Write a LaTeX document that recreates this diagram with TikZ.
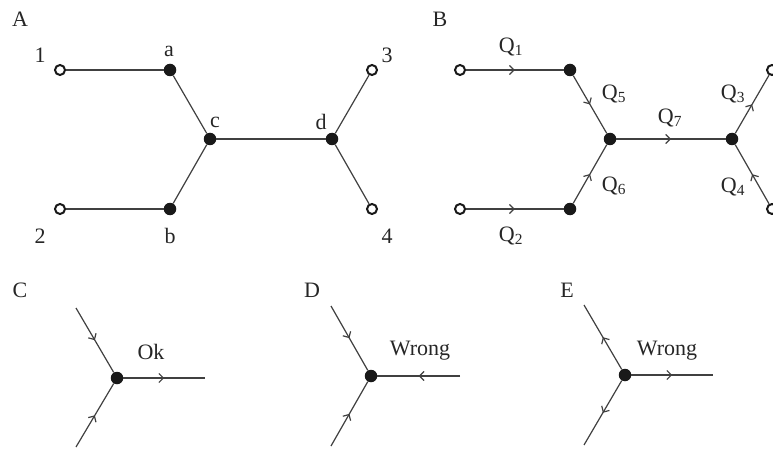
\documentclass[tikz,border=0pt]{standalone}
\usepackage{fontspec}
\setmainfont{Liberation Serif}
\usetikzlibrary{arrows.meta,decorations.markings}
\begin{document}
\begin{tikzpicture}[x=1pt,y=-1pt,
  opennode/.style={circle, draw=black!90, line width=2pt, fill=white, inner sep=0pt, minimum size=10pt},
  dotnode/.style={circle, fill=black!90, inner sep=0pt, minimum size=12.5pt},
  jnode/.style={circle, fill=black!90, inner sep=0pt, minimum size=12.5pt},
  edge/.style={line width=1.2pt, draw=black!75},
  flow/.style={edge, postaction={decorate}, decoration={markings, mark=at position 0.5 with {\arrow{Straight Barb[length=4.5pt,width=9pt,line width=1.2pt]}}}},
  lbl/.style={font=\fontsize{22}{26}\selectfont, inner sep=0pt, text=black!85}
]
\useasboundingbox (0,0) rectangle (773,449);

% ---------- Panel A ----------
\node[lbl] (tA) at (20,19) {A};
\node[opennode] (p1) at (60,70) {};
\node[dotnode] (pa) at (170,70) {};
\node[dotnode] (pc) at (210,139) {};
\node[dotnode] (pb) at (170,209) {};
\node[opennode] (p2) at (60,209) {};
\node[dotnode] (pd) at (332,139) {};
\node[opennode] (p3) at (372,70) {};
\node[opennode] (p4) at (372,209) {};
\draw[edge] (p1) -- (pa);
\draw[edge] (pa) -- (pc);
\draw[edge] (pb) -- (pc);
\draw[edge] (p2) -- (pb);
\draw[edge] (pc) -- (pd);
\draw[edge] (pd) -- (p3);
\draw[edge] (pd) -- (p4);
\node[lbl] (l1) at (40,55) {1};
\node[lbl] (la) at (169,51) {a};
\node[lbl] (lc) at (215,122) {c};
\node[lbl] (ld) at (321,122) {d};
\node[lbl] (l3) at (387,55) {3};
\node[lbl] (l2) at (40,236) {2};
\node[lbl] (lb) at (170,236) {b};
\node[lbl] (l4) at (387,236) {4};

% ---------- Panel B ----------
\node[lbl] (tB) at (440,19) {B};
\node[opennode] (q1) at (460,70) {};
\node[dotnode] (qa) at (570,70) {};
\node[dotnode] (qc) at (610,139) {};
\node[dotnode] (qb) at (570,209) {};
\node[opennode] (q2) at (460,209) {};
\node[dotnode] (qd) at (732,139) {};
\node[opennode] (q3) at (772,70) {};
\node[opennode] (q4) at (772,209) {};
\draw[flow] (q1) -- (qa);
\draw[flow] (qa) -- (qc);
\draw[flow] (qb) -- (qc);
\draw[flow] (q2) -- (qb);
\draw[flow] (qc) -- (qd);
\draw[flow] (qd) -- (q3);
\draw[flow] (q4) -- (qd);
\node[lbl] (lq1) at (511,47) {Q\textsubscript{1}};
\node[lbl] (lq5) at (614,94) {Q\textsubscript{5}};
\node[lbl] (lq7) at (670,118) {Q\textsubscript{7}};
\node[lbl] (lq6) at (614,186) {Q\textsubscript{6}};
\node[lbl] (lq2) at (511,236) {Q\textsubscript{2}};
\node[lbl] (lq3) at (733,94) {Q\textsubscript{3}};
\node[lbl] (lq4) at (733,187) {Q\textsubscript{4}};

% ---------- Panel C ----------
\node[lbl] (tC) at (20,290) {C};
\node[jnode] (cj) at (117,378) {};
\coordinate (cu) at (76,308);
\coordinate (cl) at (76,447);
\coordinate (cr) at (205,378);
\draw[flow] (cu) -- (cj);
\draw[flow] (cl) -- (cj);
\draw[flow] (cj) -- (cr);
\node[lbl] (lok) at (151,352) {Ok};

% ---------- Panel D ----------
\node[lbl] (tD) at (312,290) {D};
\node[jnode] (dj) at (371,376) {};
\coordinate (du) at (331,306);
\coordinate (dl) at (331,446);
\coordinate (dr) at (460,376);
\draw[flow] (du) -- (dj);
\draw[flow] (dl) -- (dj);
\draw[flow] (dr) -- (dj);
\node[lbl] (lwd) at (420,351) {Wrong};

% ---------- Panel E ----------
\node[lbl] (tE) at (567,290) {E};
\node[jnode] (ej) at (625,375) {};
\coordinate (eu) at (584,305);
\coordinate (el) at (584,445);
\coordinate (er) at (713,375);
\draw[flow] (ej) -- (eu);
\draw[flow] (ej) -- (el);
\draw[flow] (ej) -- (er);
\node[lbl] (lwe) at (667,351) {Wrong};
\end{tikzpicture}
\end{document}
